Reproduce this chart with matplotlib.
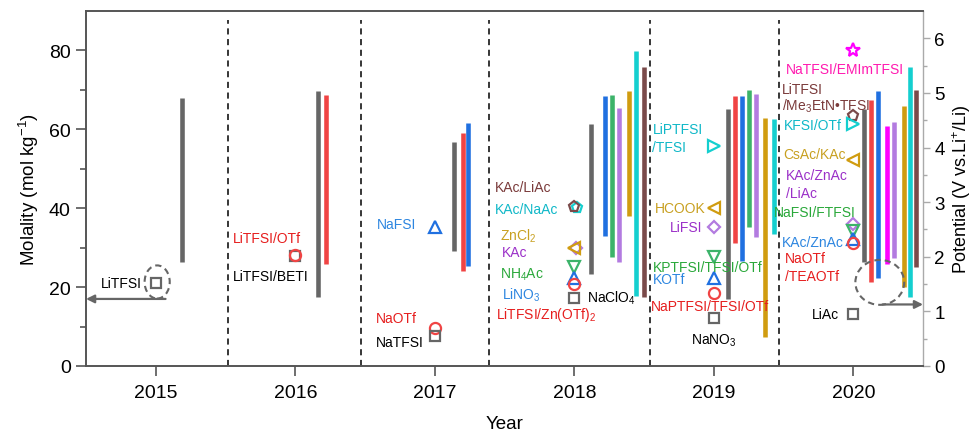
import matplotlib
matplotlib.use("Agg")
import matplotlib.pyplot as plt
from matplotlib.patches import Ellipse

plt.rcParams['font.family'] = ['Liberation Sans', 'DejaVu Sans']
plt.rcParams['mathtext.fontset'] = 'custom'
plt.rcParams['mathtext.rm'] = 'Liberation Sans'
plt.rcParams['mathtext.it'] = 'Liberation Sans:italic'

GRAY = '#666666'
RED = '#f04444'
BLUE = '#2070e0'
GREEN = '#3cb36a'
PURPLE = '#b37be0'
GOLD = '#d09c10'
CYAN = '#14cfcf'
BROWN = '#7a4a4a'
MAGENTA = '#ff00ff'

years = [2015, 2016, 2017, 2018, 2019, 2020]
year_dividers = [2015.52, 2016.47, 2017.39, 2018.54, 2019.47]

# electrochemical stability windows (right axis, V vs Li+/Li)
bar_x = [2015.19,
         2016.16, 2016.22,
         2017.14, 2017.20, 2017.24,
         2018.12, 2018.22, 2018.27, 2018.32, 2018.39, 2018.44, 2018.50,
         2019.10, 2019.15, 2019.20, 2019.25, 2019.30, 2019.37, 2019.43,
         2020.08, 2020.13, 2020.18, 2020.24, 2020.29, 2020.36, 2020.41, 2020.45]
bar_low = [1.90,
           1.26, 1.87,
           2.10, 1.74, 1.83,
           1.68, 2.38, 1.99, 1.90, 2.74, 1.29, 1.27,
           1.23, 2.25, 1.93, 2.55, 2.37, 0.54, 2.41,
           1.91, 1.53, 1.62, 1.87, 1.97, 1.44, 1.26, 1.81]
bar_high = [4.90,
            5.04, 4.96,
            4.11, 4.26, 4.44,
            4.43, 4.94, 4.96, 4.72, 5.04, 5.77, 5.47,
            4.71, 4.95, 4.94, 5.06, 4.98, 4.54, 4.52,
            4.71, 4.87, 5.04, 4.39, 4.46, 4.76, 5.47, 5.05]
bar_color = [GRAY,
             GRAY, RED,
             GRAY, RED, BLUE,
             GRAY, BLUE, GREEN, PURPLE, GOLD, CYAN, BROWN,
             GRAY, RED, BLUE, GREEN, PURPLE, GOLD, CYAN,
             GRAY, RED, BLUE, MAGENTA, PURPLE, GOLD, CYAN, BROWN]

# molality of each electrolyte (left axis, mol/kg)
pt_x = [2015,
        2016, 2016,
        2017, 2017, 2017,
        2018.02, 2018, 2018.01, 2018, 2018, 2018, 2018, 2018,
        2019, 2019, 2019, 2019, 2019, 2019, 2019,
        2020, 2020, 2020, 2020, 2020, 2020, 2020, 2020, 2020]
pt_y = [21.1,
        27.8, 28.2,
        35.2, 9.6, 7.7,
        40.0, 40.3, 30.0, 30.0, 25.0, 22.3, 20.8, 17.2,
        55.7, 40.0, 35.2, 27.6, 22.3, 18.4, 12.1,
        80.0, 63.3, 61.4, 52.3, 36.0, 34.3, 32.2, 31.2, 13.2]
pt_marker = ['s',
             's', 'o',
             '^', 'o', 's',
             'p', 'p', 'D', '<', 'v', '^', 'o', 's',
             '>', '<', 'D', 'v', '^', 'o', 's',
             '*', 'p', '>', '<', 'D', 'v', '^', 'o', 's']
pt_color = [GRAY,
            GRAY, RED,
            BLUE, RED, GRAY,
            CYAN, BROWN, PURPLE, GOLD, GREEN, BLUE, RED, GRAY,
            CYAN, GOLD, PURPLE, GREEN, BLUE, RED, GRAY,
            MAGENTA, BROWN, CYAN, GOLD, PURPLE, GREEN, BLUE, RED, GRAY]

LRED = '#e61e1e'
LBLUE = '#2d86e0'
LGOLD = '#c8a020'
LPURPLE = '#9b30c8'
LGREEN = '#2aa83a'
LCYAN = '#10b8c8'
LBROWN = '#7a3a3a'
LMAG = '#ff1ab0'

labels = [
    ("LiTFSI", 2014.90, 21.1, 'black', 'right'),
    ("LiTFSI/OTf", 2015.55, 32.4, LRED, 'left'),
    ("LiTFSI/BETI", 2015.55, 22.9, 'black', 'left'),
    ("NaFSI", 2016.87, 35.9, LBLUE, 'right'),
    ("NaOTf", 2016.58, 12.1, LRED, 'left'),
    ("NaTFSI", 2016.58, 6.2, 'black', 'left'),
    ("KAc/LiAc", 2017.43, 45.5, LBROWN, 'left'),
    ("KAc/NaAc", 2017.43, 39.8, LCYAN, 'left'),
    ("ZnCl$_2$", 2017.47, 33.1, LGOLD, 'left'),
    ("KAc", 2017.48, 29.0, LPURPLE, 'left'),
    ("NH$_4$Ac", 2017.47, 23.4, LGREEN, 'left'),
    ("LiNO$_3$", 2017.48, 18.3, LBLUE, 'left'),
    ("LiTFSI/Zn(OTf)$_2$", 2017.44, 13.2, LRED, 'left'),
    ("NaClO$_4$", 2018.09, 17.4, 'black', 'left'),
    ("LiPTFSI", 2018.56, 60.0, LCYAN, 'left'),
    ("/TFSI", 2018.56, 55.5, LCYAN, 'left'),
    ("HCOOK", 2018.94, 40.0, LGOLD, 'right'),
    ("LiFSI", 2018.92, 35.2, LPURPLE, 'right'),
    ("KPTFSI/TFSI/OTf", 2018.56, 25.0, LGREEN, 'left'),
    ("KOTf", 2018.56, 22.1, LBLUE, 'left'),
    ("NaPTFSI/TFSI/OTf", 2018.55, 15.3, LRED, 'left'),
    ("NaNO$_3$", 2019.0, 6.6, 'black', 'center'),
    ("NaTFSI/EMImTFSI", 2019.52, 75.4, LMAG, 'left'),
    ("LiTFSI", 2019.49, 70.1, LBROWN, 'left'),
    ("/Me$_3$EtN\u2022TFSI", 2019.49, 66.2, LBROWN, 'left'),
    ("KFSI/OTf", 2019.50, 61.0, LCYAN, 'left'),
    ("CsAc/KAc", 2019.50, 53.8, LGOLD, 'left'),
    ("KAc/ZnAc", 2019.52, 48.3, LPURPLE, 'left'),
    ("/LiAc", 2019.52, 43.9, LPURPLE, 'left'),
    ("NaFSI/FTFSI", 2019.43, 39.0, LGREEN, 'left'),
    ("KAc/ZnAc", 2019.49, 31.5, LBLUE, 'left'),
    ("NaOTf", 2019.51, 27.3, LRED, 'left'),
    ("/TEAOTf", 2019.51, 22.9, LRED, 'left'),
    ("LiAc", 2019.90, 13.2, 'black', 'right'),
]

SPINE = '#555555'

fig = plt.figure(figsize=(9.71, 4.31), dpi=100)
ax = fig.add_axes([0.0886, 0.1485, 0.862, 0.8237])
ax2 = ax.twinx()
ax.set_zorder(ax2.get_zorder() + 1)
ax.patch.set_visible(False)

# windows
for x, lo, hi, c in zip(bar_x, bar_low, bar_high, bar_color):
    ax2.plot([x, x], [lo, hi], color=c, lw=3.3, solid_capstyle='butt')

# dividers between years
for d in year_dividers:
    ax.axvline(d, ymin=0, ymax=0.975, color='black', ls=(0, (4, 3)), lw=1.1)

# molality markers
for x, y, m, c in zip(pt_x, pt_y, pt_marker, pt_color):
    ms = 8
    if m == 'D':
        ms = 6.5
    elif m == 's':
        ms = 7
    elif m == '*':
        ms = 10
    ax.plot(x, y, marker=m, ms=ms, mfc='none', mec=c, mew=1.6, ls='none')

for text, x, y, c, ha in labels:
    ax.text(x, y, text, color=c, ha=ha, va='center', fontsize=10)

# dashed circles + arrows pointing to the relevant axis
ax.add_patch(Ellipse((2015.01, 21.3), 0.18, 8.4, fill=False, ec=GRAY,
                     ls=(0, (3, 2)), lw=1.5))
ax.annotate("", xy=(2014.5, 17.0), xytext=(2015.07, 17.0),
            arrowprops=dict(arrowstyle='-|>', color=GRAY, lw=1.6,
                            mutation_scale=12, shrinkA=0, shrinkB=0))
ax.add_patch(Ellipse((2020.19, 21.2), 0.35, 11.4, fill=False, ec=GRAY,
                     ls=(0, (3, 2)), lw=1.5, zorder=5))
ax.annotate("", xy=(2020.5, 15.6), xytext=(2020.21, 15.6),
            arrowprops=dict(arrowstyle='-|>', color=GRAY, lw=1.6,
                            mutation_scale=12, shrinkA=0, shrinkB=0))

ax.set_xlim(2014.5, 2020.5)
ax.set_ylim(0, 90)
ax2.set_ylim(0, 6.5)

ax.set_xticks(years)
ax.set_xticklabels([str(y) for y in years])
ax.set_yticks([0, 20, 40, 60, 80])
ax.set_yticks([10, 30, 50, 70], minor=True)
ax2.set_yticks([0, 1, 2, 3, 4, 5, 6])
ax2.set_yticks([0.5, 1.5, 2.5, 3.5, 4.5, 5.5], minor=True)

ax.tick_params(axis='x', direction='out', length=7, width=1.2, color=SPINE,
               labelsize=14, pad=6)
ax.tick_params(axis='y', which='major', direction='out', length=7, width=1.2,
               color=SPINE, labelsize=14, pad=4)
ax.tick_params(axis='y', which='minor', direction='out', length=4, width=1.2,
               color=SPINE)
ax2.tick_params(axis='y', which='major', direction='out', length=5, width=1,
                color='#aaaaaa', labelsize=13.5, pad=3)
ax2.tick_params(axis='y', which='minor', direction='out', length=3, width=1,
                color='#aaaaaa')

for sp in ['left', 'bottom', 'top']:
    ax.spines[sp].set_color(SPINE)
    ax.spines[sp].set_linewidth(1.4)
ax.spines['right'].set_visible(False)
for sp in ['left', 'bottom', 'top']:
    ax2.spines[sp].set_visible(False)
ax2.spines['right'].set_color('#aaaaaa')
ax2.spines['right'].set_linewidth(1.0)

ax.set_xlabel("Year", fontsize=13.5, labelpad=10)
ax.set_ylabel("Molality (mol kg$^{-1}$)", fontsize=13.5, labelpad=6)
ax2.set_ylabel("Potential (V vs.Li$^{+}$/Li)", fontsize=13, labelpad=4)

fig.savefig("out.png", dpi=100)
